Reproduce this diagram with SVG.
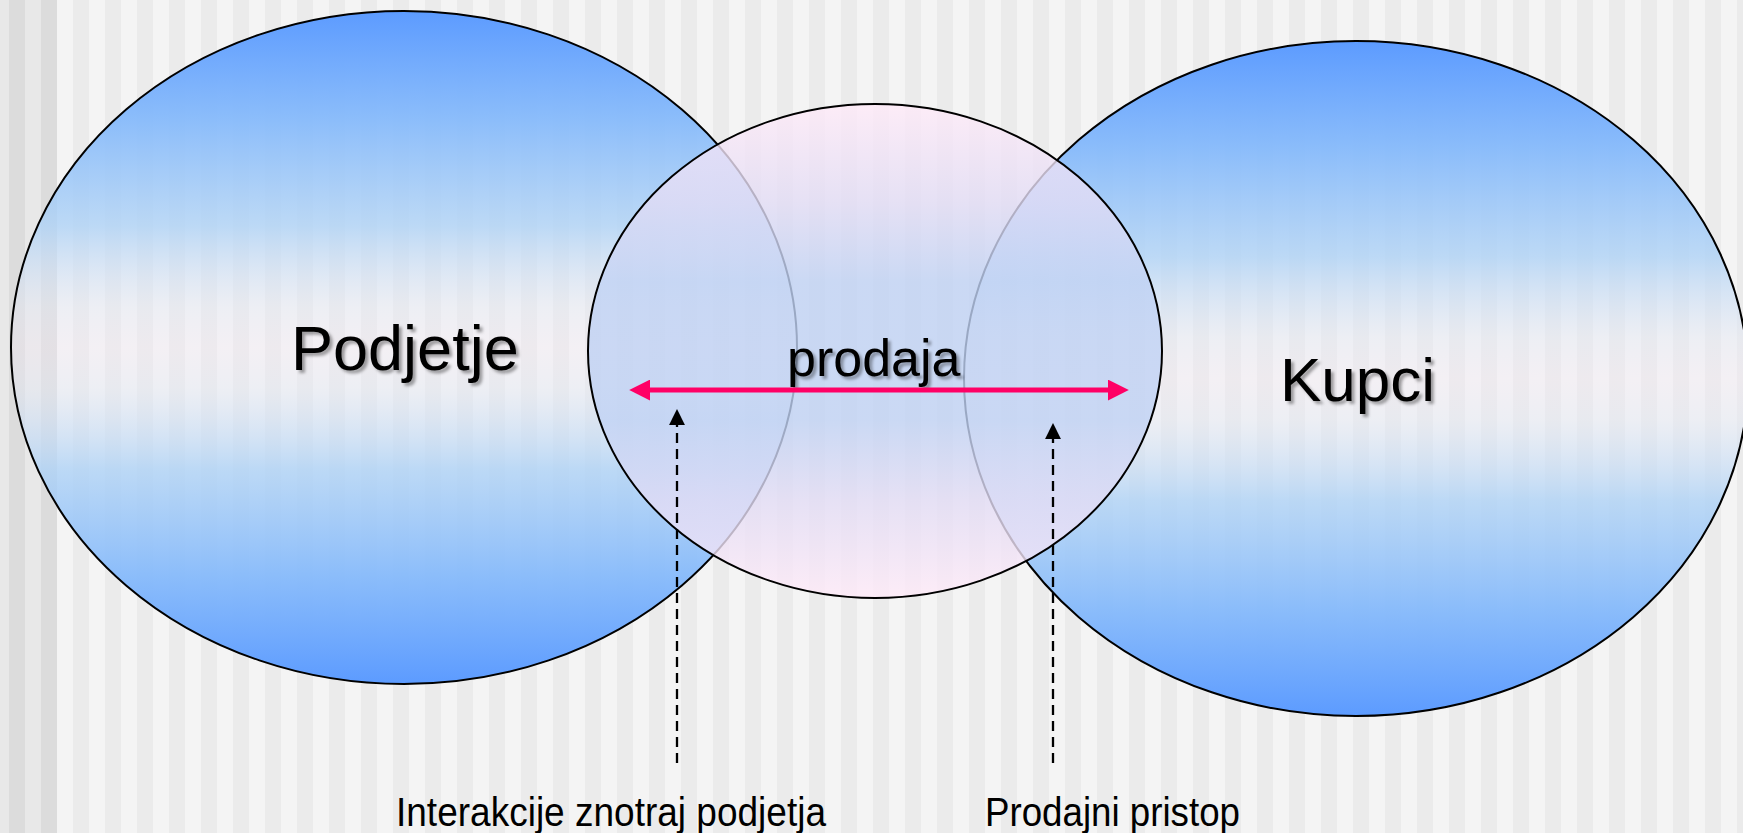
<svg xmlns="http://www.w3.org/2000/svg" width="1743" height="833" viewBox="0 0 1743 833">
  <defs>
    <pattern id="stripes" x="57" y="0" width="32" height="833" patternUnits="userSpaceOnUse">
      <rect x="0" y="0" width="16" height="833" fill="#f4f4f4"/>
      <rect x="16" y="0" width="16" height="833" fill="#ebebeb"/>
    </pattern>
    <linearGradient id="blueGrad" x1="0" y1="0" x2="0" y2="1">
      <stop offset="0" stop-color="#5c9bff" stop-opacity="1"/>
      <stop offset="0.16" stop-color="#86bafb" stop-opacity="0.95"/>
      <stop offset="0.32" stop-color="#b0d3f6" stop-opacity="0.82"/>
      <stop offset="0.44" stop-color="#e4e8f4" stop-opacity="0.45"/>
      <stop offset="0.5" stop-color="#f2e8f4" stop-opacity="0.35"/>
      <stop offset="0.56" stop-color="#e4e8f4" stop-opacity="0.45"/>
      <stop offset="0.68" stop-color="#b0d3f6" stop-opacity="0.82"/>
      <stop offset="0.84" stop-color="#86bafb" stop-opacity="0.95"/>
      <stop offset="1" stop-color="#5c9bff" stop-opacity="1"/>
    </linearGradient>
    <linearGradient id="pinkGrad" x1="0" y1="0" x2="0" y2="1">
      <stop offset="0" stop-color="#ffeaf8"/>
      <stop offset="0.2" stop-color="#e2dcf5"/>
      <stop offset="0.36" stop-color="#c0d2f4"/>
      <stop offset="0.64" stop-color="#c0d2f4"/>
      <stop offset="0.8" stop-color="#e2dcf5"/>
      <stop offset="1" stop-color="#ffeaf8"/>
    </linearGradient>
    <filter id="shadow" x="-10%" y="-10%" width="130%" height="140%">
      <feDropShadow dx="3" dy="3" stdDeviation="1.5" flood-color="#000" flood-opacity="0.35"/>
    </filter>
    <marker id="pinkHead" viewBox="0 0 10 10" refX="2" refY="5" markerWidth="4.2" markerHeight="4.2" orient="auto-start-reverse" markerUnits="strokeWidth">
      <path d="M0,0 L10,5 L0,10 z" fill="#ff0066"/>
    </marker>
    <marker id="blackHead" viewBox="0 0 10 10" refX="2" refY="5" markerWidth="7" markerHeight="7" orient="auto" markerUnits="strokeWidth">
      <path d="M0,0 L10,5 L0,10 z" fill="#000"/>
    </marker>
    <style>
      .big { font-family: "Liberation Sans", Arial, sans-serif; fill: #000; }
      .label { font-family: "Liberation Sans", Arial, sans-serif; fill: #000; font-size: 41px; }
      .outline { stroke: #000; stroke-width: 2; }
    </style>
  </defs>

  <!-- background -->
  <rect x="0" y="0" width="1743" height="833" fill="url(#stripes)"/>
  <rect x="0" y="0" width="9" height="833" fill="#e8e8e8"/>
  <rect x="9" y="0" width="16" height="833" fill="#dcdcdc"/>
  <rect x="25" y="0" width="16" height="833" fill="#e8e8e8"/>
  <rect x="41" y="0" width="16" height="833" fill="#dcdcdc"/>

  <g id="podjetje">
    <ellipse cx="404" cy="347.5" rx="393" ry="336.5" fill="url(#blueGrad)" class="outline"/>
  </g>
  <g id="kupci">
    <ellipse cx="1356" cy="378.5" rx="392" ry="337.5" fill="url(#blueGrad)" class="outline"/>
  </g>
  <g id="prodaja">
    <ellipse cx="875" cy="351" rx="287" ry="247" fill="url(#pinkGrad)" fill-opacity="0.8" class="outline"/>
  </g>

  <g id="labels">
    <text class="big" x="291" y="370" font-size="63" filter="url(#shadow)">Podjetje</text>
    <text class="big" x="1280" y="401" font-size="62" filter="url(#shadow)">Kupci</text>
    <text class="big" x="787" y="376" font-size="52" filter="url(#shadow)">prodaja</text>
    <text class="label" x="396" y="826" textLength="430" lengthAdjust="spacingAndGlyphs">Interakcije znotraj podjetja</text>
    <text class="label" x="985" y="826" textLength="255" lengthAdjust="spacingAndGlyphs">Prodajni pristop</text>
  </g>

  <g id="connectors">
    <line x1="646" y1="390" x2="1112" y2="390" stroke="#ff0066" stroke-width="5" marker-start="url(#pinkHead)" marker-end="url(#pinkHead)"/>
    <line x1="677" y1="763" x2="677" y2="422" stroke="#000" stroke-width="2.3" stroke-dasharray="10 6" marker-end="url(#blackHead)"/>
    <line x1="1053" y1="763" x2="1053" y2="436" stroke="#000" stroke-width="2.3" stroke-dasharray="10 6" marker-end="url(#blackHead)"/>
  </g>
</svg>
